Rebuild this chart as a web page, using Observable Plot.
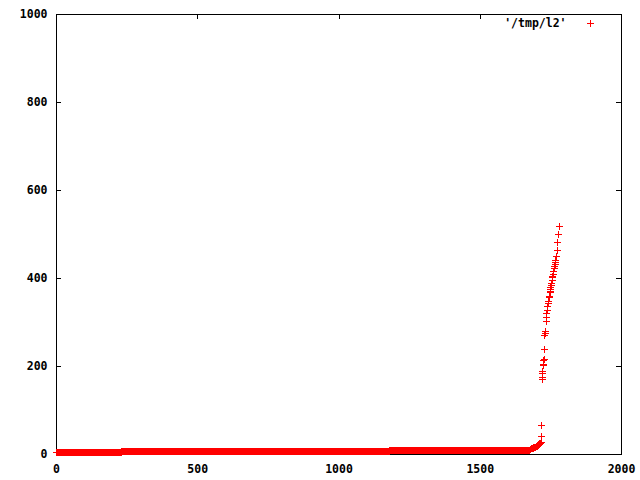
<!DOCTYPE html>
<html><head><meta charset="utf-8">
<script src="https://cdn.jsdelivr.net/npm/d3@7"></script>
<script src="https://cdn.jsdelivr.net/npm/@observablehq/plot@0.6"></script>
<style>
body{margin:0;background:#fff}
svg{display:block}
svg path, svg line, svg rect{shape-rendering:crispEdges}
</style>
</head><body><div id="chart"></div>
<script>
const xTicks = [0, 500, 1000, 1500, 2000];
const yTicks = [0, 200, 400, 600, 800, 1000];
const seriesName = "'/tmp/l2'";

// flat runs of the sorted series: index ranges with a constant value
const runStart = [0, 230, 1178, 1631];
const runEnd   = [229, 1177, 1630, 1676];
const runValue = [4, 7, 9, 10];

// rising tail, read point by point
const tailIndex = [1677,1679,1681,1683,1685,1687,1689,1691,1693,1695,1697,1699,1701,1703,1705,1707,1709,1711,1713,1715,
  1716,1717,1718,1719,1720,1721,1722,1723,1724,1725,1726,1727,1729,1730,1731,1733,1735,1736,1738,1739,1740,
  1742,1744,1745,1747,1748,1749,1750,1752,1753,1755,1756,1757,1759,1760,1762,1764,1766,1767,1768,1770,1772,1774,1777,1779];
const tailValue = [12,12,13,13,14,14,15,15,16,16,17,18,19,20,21,22,23,24,25,26,
  27,41,65,170,175,183,189,202,204,213,217,238,270,276,280,303,312,320,327,337,343,
  348,356,360,368,371,376,379,385,388,395,402,405,409,415,423,428,432,436,440,449,464,481,499,519];

const data = [];
runStart.forEach((s, j) => { for (let k = s; k <= runEnd[j]; k++) data.push({i: k, v: runValue[j]}); });
tailIndex.forEach((k, j) => data.push({i: k, v: tailValue[j]}));

const plus = {
  draw(ctx, size) {
    const r = Math.sqrt(size / Math.PI);
    ctx.moveTo(-r, 0); ctx.lineTo(r, 0);
    ctx.moveTo(0, -r); ctx.lineTo(0, r);
  }
};

const chart = Plot.plot({
  width: 640,
  height: 480,
  marginLeft: 56,
  marginRight: 19,
  marginTop: 14,
  marginBottom: 26,
  style: {fontFamily: "'DejaVu Sans Mono', monospace", fontSize: "11.5px", fontWeight: "bold", background: "#fff", color: "#000"},
  x: {domain: [0, 2000]},
  y: {domain: [0, 1000]},
  marks: [
    Plot.axisX({ticks: xTicks, tickSize: 0, tickPadding: 10, tickFormat: "d", label: null, fill: "#000"}),
    Plot.axisY({ticks: yTicks, tickSize: 0, tickPadding: 9, tickFormat: "d", label: null, fill: "#000"}),
    Plot.ruleY(yTicks, {y: d => d, x1: 0, x2: 18, stroke: "#000"}),
    Plot.ruleY(yTicks, {y: d => d, x1: 1982, x2: 2000, stroke: "#000"}),
    Plot.ruleX(xTicks, {x: d => d, y1: 0, y2: 11, stroke: "#000"}),
    Plot.ruleX(xTicks, {x: d => d, y1: 989, y2: 1000, stroke: "#000"}),
    Plot.frame({stroke: "#000"}),
    Plot.dot(data, {x: "i", y: "v", symbol: plus, r: 3.5, stroke: "red", strokeWidth: 1, fill: "none", clip: false}),
    Plot.text([seriesName], {text: d => d, frameAnchor: "top-right", dx: -55, dy: 9, textAnchor: "end", lineAnchor: "middle", fill: "#000"}),
    Plot.dot([seriesName], {frameAnchor: "top-right", dx: -31.5, dy: 8.5, symbol: plus, r: 3.5, stroke: "red", strokeWidth: 1, fill: "none"})
  ]
});
document.getElementById("chart").appendChild(chart);
</script>
</body></html>
